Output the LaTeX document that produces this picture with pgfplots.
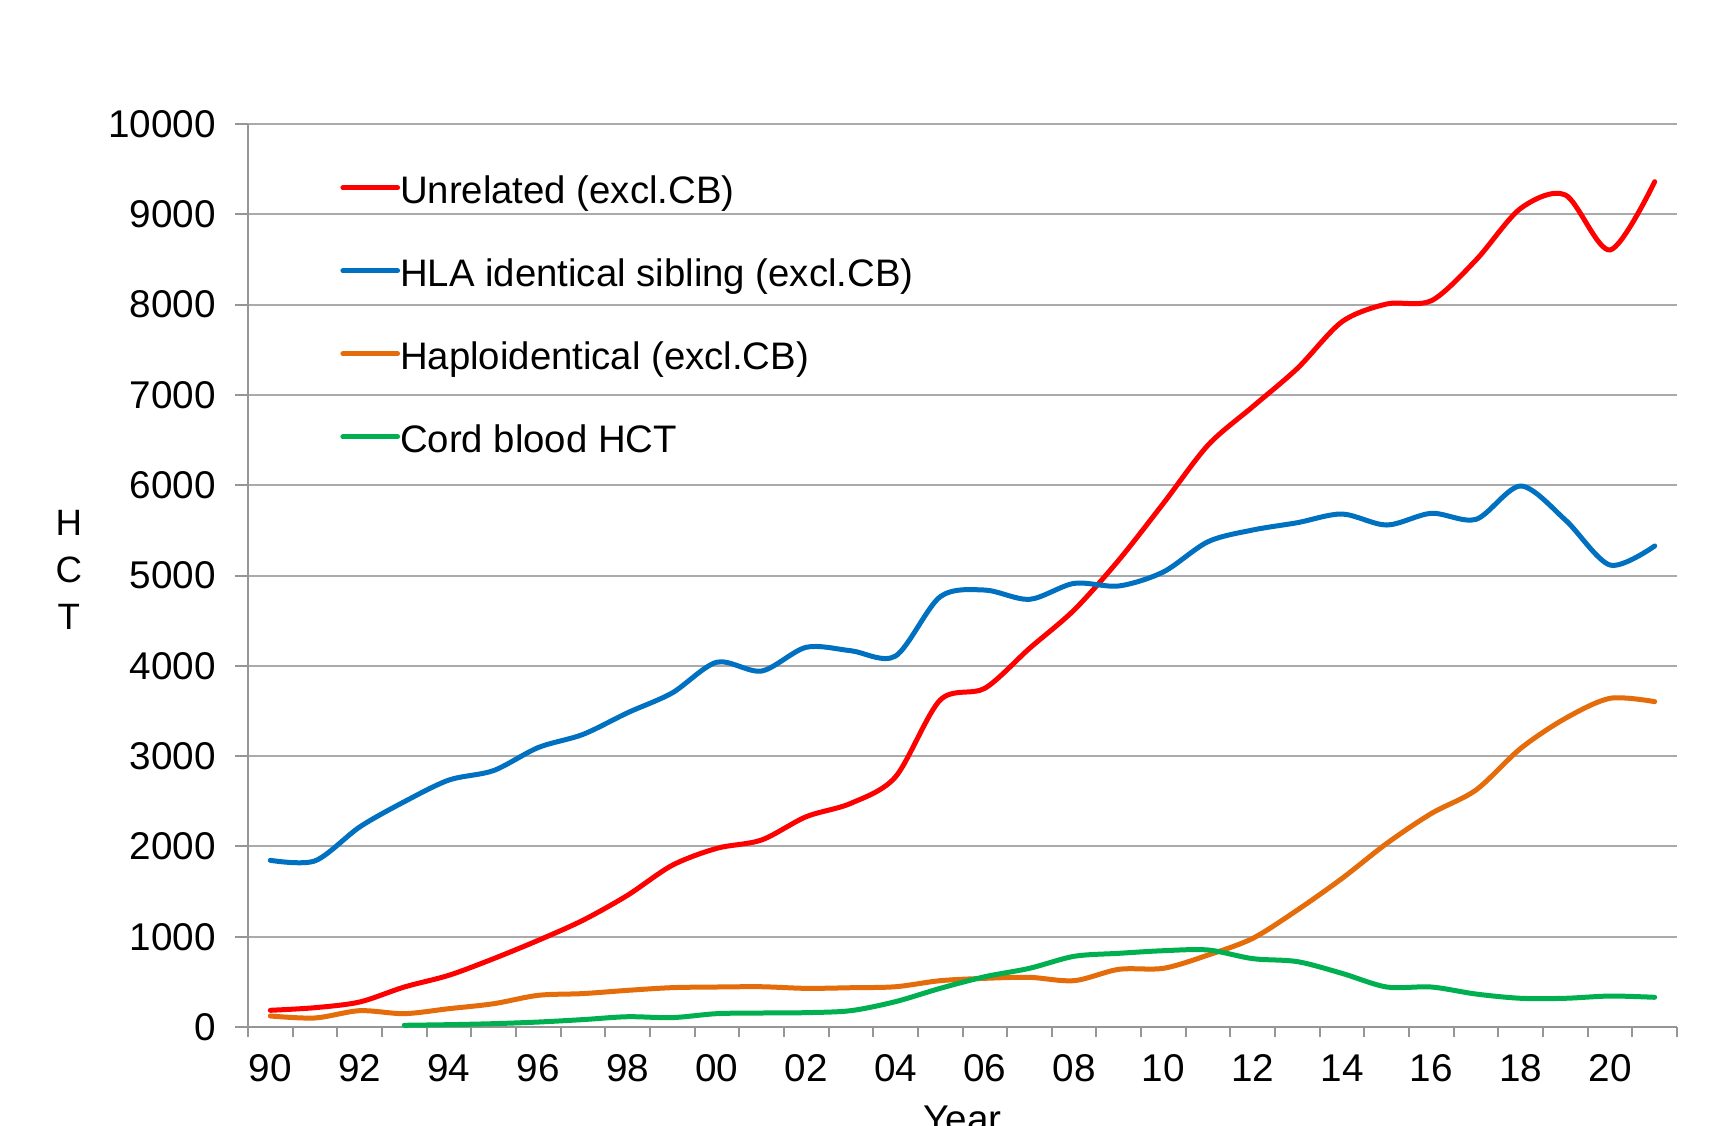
\documentclass[border=0pt]{standalone}
\usepackage{fontspec}
\setmainfont{Liberation Sans}
\usepackage{pgfplots}
\pgfplotsset{compat=1.18}
\definecolor{cRed}{RGB}{255,0,0}
\definecolor{cBlue}{RGB}{0,112,192}
\definecolor{cOrange}{RGB}{228,108,10}
\definecolor{cGreen}{RGB}{0,176,80}
\definecolor{cGrid}{RGB}{170,170,170}
\definecolor{cAxis}{RGB}{150,150,150}
\newcommand\ls{\rule[-2.9pt]{0pt}{13.6pt}}
\begin{document}
\begin{tikzpicture}
\path[use as bounding box] (-74.4pt,-29.4pt) rectangle (441pt,308.1pt);
\begin{axis}[
  at={(0pt,0pt)}, anchor=south west,
  scale only axis, width=428.7pt, height=270.9pt,
  xmin=1989.5, xmax=2021.5, ymin=0, ymax=10000,
  axis x line=bottom, axis y line=left,
  axis line style={cAxis, line width=0.6pt, -},
  xtick={1990,1992,...,2020},
  xticklabels={90,92,94,96,98,00,02,04,06,08,10,12,14,16,18,20},
  minor xtick={1989.5,1990.5,...,2021.5},
  major x tick style={draw=none},
  minor x tick style={cAxis, line width=0.6pt},
  y tick style={cAxis, line width=0.6pt},
  tick align=outside, major tick length=3.9pt, minor tick length=3pt,
  ytick={0,1000,...,10000},
  ymajorgrids, major y grid style={cGrid, line width=0.6pt},
  scaled y ticks=false,
  yticklabel style={/pgf/number format/1000 sep={}, anchor=east, inner sep=0pt, xshift=-5.6pt},
  /pgf/number format/assume math mode=true,
  tick label style={font=\fontsize{11.6}{13}\selectfont, text=black},
  xticklabel style={anchor=base, inner sep=0pt, yshift=-12.3pt},
  xlabel={Year},
  xlabel style={at={(axis description cs:0.5,0)}, anchor=base, yshift=-31.5pt, font=\fontsize{11.6}{13}\selectfont},
  ylabel={H\\C\\T},
  ylabel style={at={(axis description cs:-0.1253,0.506)}, rotate=-90, anchor=center, align=center, font=\fontsize{11}{14.1}\selectfont},
  legend style={at={(axis description cs:0.0642,0.7915)}, anchor=west, draw=none, fill=none, inner sep=0pt, row sep=12.7pt, column sep=0pt, font=\fontsize{11.5}{13}\selectfont, nodes={inner sep=0pt}},
  legend cell align=left,
  legend image code/.code={\draw[#1] (0pt,0pt) -- (16.4pt,0pt);},
  every axis plot/.append style={line width=1.5pt, line cap=round, smooth, tension=0.5, no markers},
]
\addplot[cRed] coordinates {(1990,185)(1991,214)(1992,277)(1993,443)(1994,573)(1995,757)(1996,960)(1997,1182)(1998,1459)(1999,1791)(2000,1979)(2001,2071)(2002,2329)(2003,2477)(2004,2770)(2005,3621)(2006,3751)(2007,4193)(2008,4618)(2009,5171)(2010,5800)(2011,6445)(2012,6870)(2013,7294)(2014,7811)(2015,8007)(2016,8043)(2017,8494)(2018,9066)(2019,9214)(2020,8605)(2021,9361)};
\addlegendentry{\ls Unrelated (excl.CB)}
\addplot[cBlue] coordinates {(1990,1846)(1991,1840)(1992,2215)(1993,2495)(1994,2735)(1995,2840)(1996,3095)(1997,3240)(1998,3480)(1999,3700)(2000,4040)(2001,3942)(2002,4205)(2003,4167)(2004,4108)(2005,4765)(2006,4839)(2007,4736)(2008,4913)(2009,4884)(2010,5040)(2011,5375)(2012,5504)(2013,5585)(2014,5681)(2015,5559)(2016,5689)(2017,5622)(2018,5991)(2019,5615)(2020,5116)(2021,5327)};
\addlegendentry{\ls HLA identical sibling (excl.CB)}
\addplot[cOrange] coordinates {(1990,122)(1991,100)(1992,181)(1993,148)(1994,203)(1995,258)(1996,351)(1997,370)(1998,406)(1999,436)(2000,443)(2001,446)(2002,428)(2003,435)(2004,446)(2005,513)(2006,539)(2007,550)(2008,513)(2009,639)(2010,650)(2011,797)(2012,982)(2013,1296)(2014,1646)(2015,2033)(2016,2365)(2017,2625)(2018,3086)(2019,3418)(2020,3640)(2021,3603)};
\addlegendentry{\ls Haploidentical (excl.CB)}
\addplot[cGreen] coordinates {(1993,19)(1994,26)(1995,37)(1996,55)(1997,82)(1998,114)(1999,104)(2000,148)(2001,155)(2002,159)(2003,181)(2004,281)(2005,428)(2006,557)(2007,650)(2008,783)(2009,816)(2010,845)(2011,853)(2012,757)(2013,724)(2014,594)(2015,443)(2016,443)(2017,365)(2018,318)(2019,318)(2020,343)(2021,329)};
\addlegendentry{\ls Cord blood HCT}
\end{axis}
\end{tikzpicture}
\end{document}
